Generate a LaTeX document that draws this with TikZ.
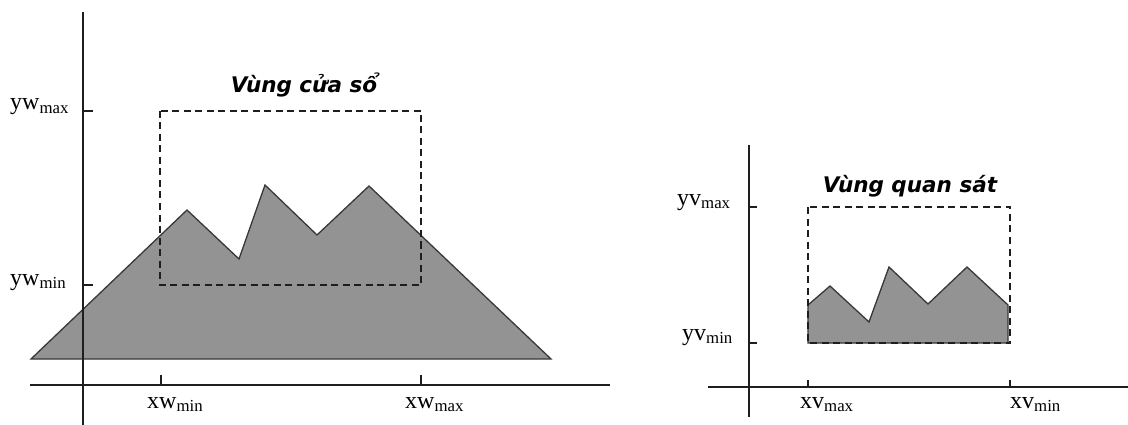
\documentclass[tikz,border=0pt]{standalone}
\usepackage{fontspec}
\setmainfont{Liberation Serif}
\newfontfamily\headfont{DejaVu Sans}
\usetikzlibrary{positioning}
\definecolor{Ink}{HTML}{1E1E1E}
\definecolor{Shade}{HTML}{939393}
\definecolor{Edge}{HTML}{383838}
\tikzset{
  axis/.style={draw=Ink, line width=1.8pt},
  tickmark/.style={draw=Ink, line width=1.6pt},
  winbox/.style={draw=Ink, dash pattern=on 7pt off 4.5pt, line width=2pt},
  land/.style={fill=Shade, draw=Edge, line width=1.3pt, line join=miter},
  lbl/.style={font=\fontsize{24}{24}\selectfont, inner sep=0pt, anchor=base west},
  heading/.style={font=\headfont\bfseries\itshape\fontsize{21.5}{21.5}\selectfont, inner sep=0pt, anchor=base}
}

\begin{document}
\begin{tikzpicture}[x=1pt,y=-1pt]
  \useasboundingbox (0,0) rectangle (1128,425);
  % window side
  \draw[land] (31,359) -- (187,210) -- (239,259) -- (265,185) -- (317,235)
    -- (369,186) -- (551,359) -- cycle;
  \draw[axis] (83,12) -- (83,425);
  \draw[axis] (30,385) -- (610,385);
  \draw[tickmark] (83,111) -- (93,111);
  \draw[tickmark] (83,285) -- (93,285);
  \draw[tickmark] (161,375) -- (161,385);
  \draw[tickmark] (421,375) -- (421,385);
  \draw[winbox] (160,111) rectangle (421,285);
  \node[heading] (win) at (304,93) {Vùng cửa sổ};
  \node[lbl] (ywmax) at (10,110) {yw\textsubscript{max}};
  \node[lbl] (ywmin) at (10,285) {yw\textsubscript{min}};
  \node[lbl] (xwmin) at (147,408) {xw\textsubscript{min}};
  \node[lbl] (xwmax) at (405,408) {xw\textsubscript{max}};
  % viewport side
  \draw[land] (808,343) -- (808,305) -- (830,286) -- (869,322) -- (889,267)
    -- (928,304) -- (967,267) -- (1008,305) -- (1008,343) -- cycle;
  \draw[axis] (749,145) -- (749,417);
  \draw[axis] (708,387) -- (1128,387);
  \draw[tickmark] (749,207) -- (757,207);
  \draw[tickmark] (749,343) -- (757,343);
  \draw[tickmark] (808,380) -- (808,387);
  \draw[tickmark] (1010,380) -- (1010,387);
  \draw[winbox] (808,207) rectangle (1010,343);
  \node[heading] (view) at (910,193) {Vùng quan sát};
  \node[lbl] (yvmax) at (677,205) {yv\textsubscript{max}};
  \node[lbl] (yvmin) at (682,340) {yv\textsubscript{min}};
  \node[lbl] (xvmax) at (800,408) {xv\textsubscript{max}};
  \node[lbl] (xvmin) at (1010,408) {xv\textsubscript{min}};
\end{tikzpicture}
\end{document}
